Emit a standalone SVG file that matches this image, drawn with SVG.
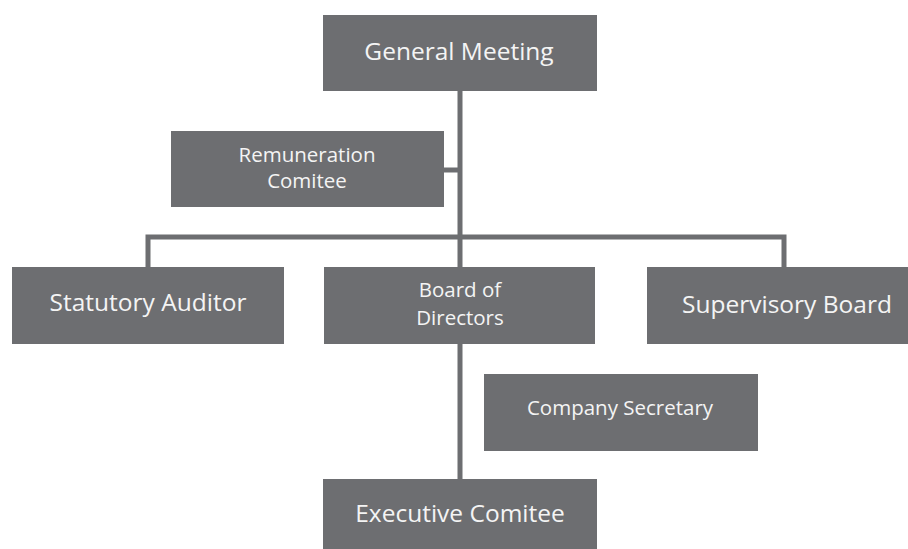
<svg xmlns="http://www.w3.org/2000/svg" width="908" height="549" viewBox="0 0 908 549">
<style>
.box{fill:#6d6e71;}
.t{fill:#f4f4f4;font-family:"Open Sans","Liberation Sans",sans-serif;text-anchor:middle;}
.lg{font-size:24.5px;}
.sm{font-size:20.5px;}
.ln{stroke:#6d6e71;stroke-width:5;fill:none;}
</style>
<rect width="908" height="549" fill="#ffffff"/>
<g id="connectors">
<path class="ln" d="M460 91 V267"/>
<path class="ln" d="M444 170 H460"/>
<path class="ln" d="M148 267 V237 H784 V267"/>
<path class="ln" d="M460 344 V479"/>
</g>
<g id="general-meeting">
<rect class="box" x="323" y="15" width="274" height="76"/>
<text class="t lg" x="459" y="60">General Meeting</text>
</g>
<g id="remuneration-comitee">
<rect class="box" x="171" y="131" width="273" height="76"/>
<text class="t sm" x="307" y="162">Remuneration</text>
<text class="t sm" x="307" y="188">Comitee</text>
</g>
<g id="statutory-auditor">
<rect class="box" x="12" y="267" width="272" height="77"/>
<text class="t lg" x="148" y="311">Statutory Auditor</text>
</g>
<g id="board-of-directors">
<rect class="box" x="324" y="267" width="271" height="77"/>
<text class="t sm" x="460" y="297">Board of</text>
<text class="t sm" x="460" y="325">Directors</text>
</g>
<g id="supervisory-board">
<rect class="box" x="647" y="267" width="261" height="77"/>
<text class="t lg" x="787" y="313">Supervisory Board</text>
</g>
<g id="company-secretary">
<rect class="box" x="484" y="374" width="274" height="77"/>
<text class="t sm" x="620" y="415">Company Secretary</text>
</g>
<g id="executive-comitee">
<rect class="box" x="323" y="479" width="274" height="77"/>
<text class="t lg" x="460" y="522">Executive Comitee</text>
</g>
</svg>
